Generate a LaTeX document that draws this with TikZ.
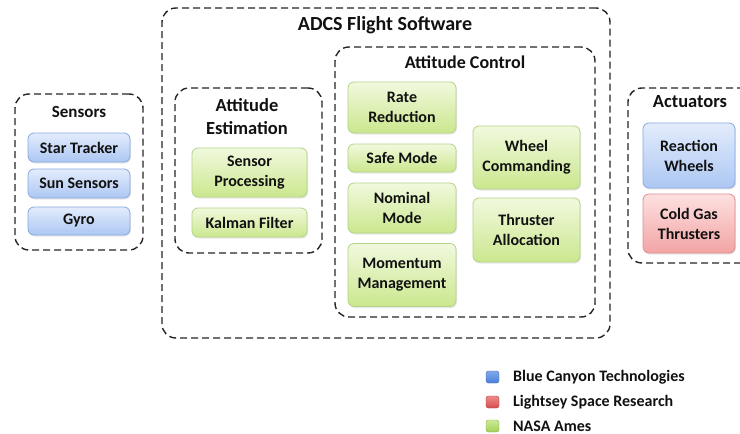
\documentclass[tikz,border=0pt]{standalone}
\usepackage{fontspec}
\setmainfont{Carlito}
\usetikzlibrary{shadows}
\definecolor{bluetop}{HTML}{E3ECFC}
\definecolor{bluebot}{HTML}{ACC7F3}
\definecolor{blueline}{HTML}{86A8E2}
\definecolor{greentop}{HTML}{F1F9DE}
\definecolor{greenbot}{HTML}{CBE78E}
\definecolor{greenline}{HTML}{B2D486}
\definecolor{redtop}{HTML}{FDE0E0}
\definecolor{redbot}{HTML}{F2A4A4}
\definecolor{redline}{HTML}{E08E8E}
\definecolor{lbtop}{HTML}{80AAEE}
\definecolor{lbbot}{HTML}{4A7ED6}
\definecolor{lrtop}{HTML}{F08A8A}
\definecolor{lrbot}{HTML}{D64C4C}
\definecolor{lgtop}{HTML}{CDEA98}
\definecolor{lgbot}{HTML}{A2CF55}
\definecolor{txt}{HTML}{111111}
\tikzset{
  box/.style={rectangle, rounded corners=6pt, line width=0.8pt, align=center, inner sep=0pt,
    font=\bfseries\fontsize{16}{20}\selectfont, text=txt,
    drop shadow={opacity=0.18, shadow xshift=1pt, shadow yshift=-1.5pt}},
  bluebox/.style={box, draw=blueline, top color=bluetop, bottom color=bluebot},
  greenbox/.style={box, draw=greenline, top color=greentop, bottom color=greenbot},
  redbox/.style={box, draw=redline, top color=redtop, bottom color=redbot},
  group/.style={rectangle, rounded corners=14pt, draw=black!85, line width=1.4pt,
    dash pattern=on 7pt off 4pt, inner sep=0pt},
  gtitle/.style={font=\bfseries\fontsize{18.5}{23}\selectfont, text=txt, align=center, inner sep=0pt},
  legsq/.style={rectangle, rounded corners=2.5pt, minimum width=13pt, minimum height=12pt, inner sep=0pt},
  legtxt/.style={anchor=west, font=\bfseries\fontsize{16}{18}\selectfont, text=txt, inner sep=0pt}
}
\begin{document}
\begin{tikzpicture}[x=1pt,y=-1pt]
\useasboundingbox (0,0) rectangle (740,434);
\clip (0,0) rectangle (740,434);
\fill[white] (0,0) rectangle (740,434);
% containers
\node[group, minimum width=128pt, minimum height=156pt] (sensors) at (79,172) {};
\node[group, minimum width=448pt, minimum height=330pt] (adcs) at (386,173) {};
\node[group, minimum width=147pt, minimum height=165pt] (est) at (248.5,170.5) {};
\node[group, minimum width=260pt, minimum height=270pt] (ctrl) at (465,182) {};
\node[group, minimum width=130pt, minimum height=175pt] (act) at (693,175.5) {};
% titles
\node[gtitle, font=\bfseries\fontsize{17}{22}\selectfont] (tsens) at (79,112) {Sensors};
\node[gtitle, font=\bfseries\fontsize{20}{24}\selectfont] (tadcs) at (385,25) {ADCS Flight Software};
\node[gtitle] (test) at (247,116.5) {Attitude\\Estimation};
\node[gtitle, font=\bfseries\fontsize{18}{22}\selectfont] (tctrl) at (465,62) {Attitude Control};
\node[gtitle] (tact) at (690,102) {Actuators};
% sensors
\node[bluebox, minimum width=102pt, minimum height=29pt] (star) at (79,147.5) {Star Tracker};
\node[bluebox, minimum width=102pt, minimum height=29pt] (sun) at (79,183.5) {Sun Sensors};
\node[bluebox, minimum width=102pt, minimum height=28pt] (gyro) at (79,221) {Gyro};
% estimation
\node[greenbox, minimum width=115pt, minimum height=49pt] (sp) at (249.5,172.5) {Sensor\\Processing};
\node[greenbox, minimum width=115pt, minimum height=29pt] (kf) at (249.5,222.5) {Kalman Filter};
% control
\node[greenbox, minimum width=108pt, minimum height=51pt] (rr) at (402,107.5) {Rate\\Reduction};
\node[greenbox, minimum width=108pt, minimum height=28pt] (sm) at (402,158) {Safe Mode};
\node[greenbox, minimum width=108pt, minimum height=50pt] (nm) at (402,208) {Nominal\\Mode};
\node[greenbox, minimum width=108pt, minimum height=63pt] (mm) at (402,275) {Momentum\\Management};
\node[greenbox, minimum width=107pt, minimum height=63pt] (wc) at (526.5,157.5) {Wheel\\Commanding};
\node[greenbox, minimum width=107pt, minimum height=64pt] (ta) at (526.5,230) {Thruster\\Allocation};
% actuators
\node[bluebox, minimum width=92pt, minimum height=65pt] (rw) at (689,155.5) {Reaction\\Wheels};
\node[redbox, minimum width=92pt, minimum height=59pt] (cg) at (689,223.5) {Cold Gas\\Thrusters};
% legend
\node[legsq, top color=lbtop, bottom color=lbbot, draw=lbbot!80!black] (lb) at (492.5,377) {};
\node[legsq, top color=lrtop, bottom color=lrbot, draw=lrbot!80!black] (lr) at (492.5,402) {};
\node[legsq, top color=lgtop, bottom color=lgbot, draw=lgbot!85!black] (lg) at (492.5,426) {};
\node[legtxt] (tb) at (513,377) {Blue Canyon Technologies};
\node[legtxt] (tr) at (513,402) {Lightsey Space Research};
\node[legtxt] (tg) at (513,426) {NASA Ames};
\end{tikzpicture}
\end{document}
